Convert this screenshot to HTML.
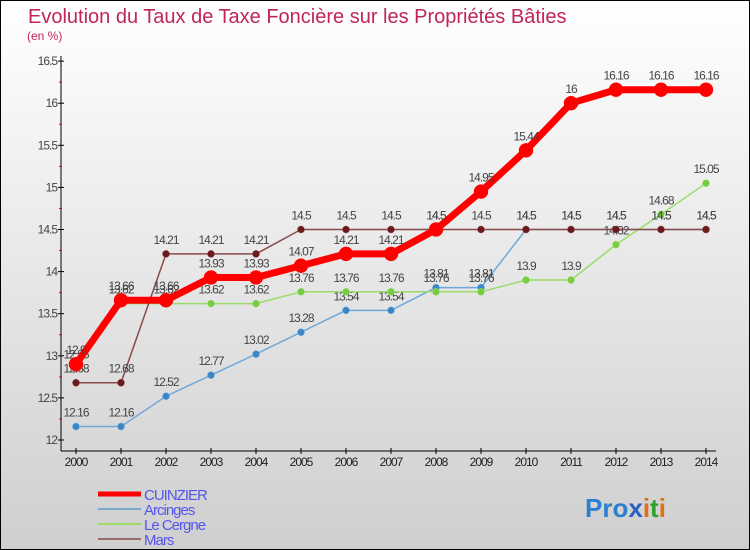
<!DOCTYPE html>
<html><head><meta charset="utf-8"><style>
body{margin:0}
#c{width:748px;height:548px;border:1px solid #000;background:linear-gradient(#fff,#cfcfcf);position:relative;font-family:"Liberation Sans",sans-serif;overflow:hidden}
svg{position:absolute;left:0;top:0}
</style></head><body>
<div id="c">
<svg id="s" width="748" height="548">
<text x="27" y="22" font-size="20" fill="#c0245c">Evolution du Taux de Taxe Foncière sur les Propriétés Bâties</text>
<text x="26" y="39" font-size="12" fill="#c0245c">(en %)</text>
</svg>
</div>
<script>
const years=[2000,2001,2002,2003,2004,2005,2006,2007,2008,2009,2010,2011,2012,2013,2014];
const yTicks=[12,12.5,13,13.5,14,14.5,15,15.5,16,16.5];
const cuinzier=[12.9,13.66,13.66,13.93,13.93,14.07,14.21,14.21,14.5,14.95,15.44,16,16.16,16.16,16.16];
const arcinges=[12.16,12.16,12.52,12.77,13.02,13.28,13.54,13.54,13.81,13.81,14.5,14.5,14.5,14.5,14.5];
const lecergne=[12.85,13.62,13.62,13.62,13.62,13.76,13.76,13.76,13.76,13.76,13.9,13.9,14.32,14.68,15.05];
const mars=[12.68,12.68,14.21,14.21,14.21,14.5,14.5,14.5,14.5,14.5,14.5,14.5,14.5,14.5,14.5];
const s=document.getElementById('s'),NS='http://www.w3.org/2000/svg';
const X=i=>75+i*45, Y=v=>439-(v-12)*84.2;
function el(t,a,p){const e=document.createElementNS(NS,t);for(const k in a)e.setAttribute(k,a[k]);(p||s).appendChild(e);return e;}
let a=el('line',{x1:60,y1:55,x2:60,y2:450,stroke:'#000'});

a=el('line',{x1:60,y1:450,x2:715,y2:450,stroke:'#000'});

yTicks.forEach((v,i)=>{el('line',{x1:57,x2:63,y1:Y(v),y2:Y(v),stroke:'#000'});
 if(i<yTicks.length-1)el('line',{x1:58,x2:61,y1:Y(v+0.25),y2:Y(v+0.25),stroke:'#e00'});
 const t=el('text',{x:56,y:Y(v)+4,'font-size':12,fill:'#444','text-anchor':'end','letter-spacing':'-1'});t.textContent=v;
 });
years.forEach((yr,i)=>{el('line',{x1:X(i),x2:X(i),y1:447,y2:453,stroke:'#000'});
 const t=el('text',{x:X(i),y:465,'font-size':12,fill:'#222','text-anchor':'middle','letter-spacing':'-1'});t.textContent=yr;
 });
function series(d,col,w,r,dot,name){const g=el('g',{});
 
 el('polyline',{points:d.map((v,i)=>X(i)+','+Y(v)).join(' '),fill:'none',stroke:col,'stroke-width':w,'stroke-linejoin':'round'},g);
 d.forEach((v,i)=>{el('circle',{cx:X(i),cy:Y(v),r:r,fill:dot,stroke:col,'stroke-width':0.5},g);
  const t=el('text',{x:X(i),y:Y(v)-10,'font-size':12,fill:'#444','text-anchor':'middle','letter-spacing':'-1'},g);t.textContent=v;});}
series(arcinges,'#6fa8dc',1.5,3.5,'#3a87c8','series-arcinges');
series(lecergne,'#99dd66',1.5,3.5,'#77cc44','series-le-cergne');
series(mars,'#8b4a4a',1.5,3.5,'#6a1a1a','series-mars');
series(cuinzier,'#ff0000',7,7,'#ff0000','series-cuinzier');
const leg=[['CUINZIER','#ff0000',5],['Arcinges','#7aa9cc',2],['Le Cergne','#99dd66',2],['Mars','#9b6b6b',2]];
leg.forEach((l,i)=>{const y=493+i*15;const g=el('g',{});
 
 el('line',{x1:97,x2:140,y1:y,y2:y,stroke:l[1],'stroke-width':l[2]},g);
 const t=el('text',{x:143,y:y+6,'font-size':15,fill:'#5555ee','letter-spacing':'-1'},g);t.textContent=l[0];});
const lg=el('text',{x:584,y:516,'font-size':26,'font-weight':'bold'});

[['Pro','#2a7fd0'],['x','#2a5fc0'],['i','#e07010'],['t','#30a030'],['i','#e07010']].forEach(p=>{const ts=el('tspan',{fill:p[1]},lg);ts.textContent=p[0];});
</script>
</body></html>
